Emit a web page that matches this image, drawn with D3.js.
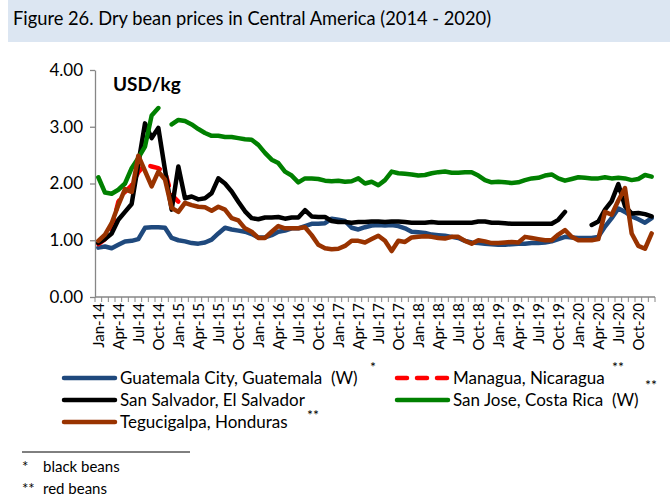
<!DOCTYPE html>
<html><head><meta charset="utf-8">
<script src="https://cdn.jsdelivr.net/npm/d3@7/dist/d3.min.js"></script>
<style>body{margin:0;background:#fff}svg{display:block}text{font-family:Lato,"Open Sans",sans-serif;fill:#000;white-space:pre}</style>
</head><body><svg id="c" width="670" height="500"></svg>
<script>
// ---------- DATA ----------
const years = ["14","15","16","17","18","19","20"];
const monthNames = ["Jan","Feb","Mar","Apr","May","Jun","Jul","Aug","Sep","Oct","Nov","Dec"];
const categories = years.flatMap(y => monthNames.map(m => m + "-" + y));
const tickLabels = ["Jan-14","Apr-14","Jul-14","Oct-14","Jan-15","Apr-15","Jul-15","Oct-15",
  "Jan-16","Apr-16","Jul-16","Oct-16","Jan-17","Apr-17","Jul-17","Oct-17","Jan-18","Apr-18",
  "Jul-18","Oct-18","Jan-19","Apr-19","Jul-19","Oct-19","Jan-20","Apr-20","Jul-20","Oct-20"];
const yTicks = [0, 1, 2, 3, 4];

const guatemala = [0.87,0.89,0.86,0.92,0.98,0.99,1.02,1.22,1.23,1.23,1.22,1.04,
  1.00,0.98,0.95,0.94,0.96,1.01,1.12,1.22,1.19,1.17,1.15,1.11,
  1.05,1.05,1.09,1.15,1.17,1.21,1.21,1.25,1.29,1.29,1.30,1.38,
  1.36,1.34,1.22,1.19,1.23,1.26,1.27,1.26,1.27,1.25,1.21,1.15,
  1.14,1.13,1.10,1.09,1.08,1.06,1.04,0.99,0.96,0.95,0.94,0.93,
  0.92,0.92,0.93,0.94,0.94,0.95,0.95,0.96,0.98,1.02,1.06,1.05,
  1.04,1.04,1.04,1.06,1.24,1.39,1.56,1.50,1.42,1.37,1.31,1.39];
const managua = [0.93,1.02,1.20,1.68,1.85,1.97,2.20,2.33,2.30,2.27,2.20,1.80,
  1.68,null,null,null,null,null,null,null,null,null,null,null,
  null,null,null,null,null,null,null,null,null,null,null,null,
  null,null,null,null,null,null,null,null,null,null,null,null,
  null,null,null,null,null,null,null,null,null,null,null,null,
  null,null,null,null,null,null,null,null,null,null,null,null,
  null,null,null,null,null,null,null,null,null,null,null,null];
const sanSalvador = [0.95,1.02,1.12,1.36,1.50,1.64,2.35,3.06,2.80,2.98,2.24,1.54,
  2.30,1.74,1.77,1.72,1.74,1.83,2.09,2.00,1.86,1.68,1.51,1.39,
  1.37,1.40,1.40,1.41,1.38,1.40,1.40,1.53,1.42,1.41,1.41,1.34,
  1.32,1.32,1.31,1.32,1.32,1.33,1.33,1.32,1.33,1.33,1.32,1.31,
  1.31,1.31,1.32,1.31,1.31,1.31,1.31,1.31,1.31,1.33,1.33,1.31,
  1.31,1.30,1.29,1.29,1.29,1.29,1.29,1.29,1.29,1.36,1.50,null,
  null,null,1.27,1.33,1.54,1.69,1.99,1.60,1.47,1.48,1.46,1.42];
const sanJose = [2.11,1.84,1.82,1.89,2.00,2.27,2.45,2.65,3.20,3.33,null,3.04,
  3.12,3.10,3.04,2.96,2.89,2.84,2.84,2.82,2.82,2.80,2.78,2.77,
  2.68,2.54,2.42,2.36,2.21,2.14,2.02,2.09,2.09,2.08,2.05,2.04,
  2.05,2.03,2.04,2.09,2.00,2.03,1.97,2.06,2.21,2.18,2.17,2.16,
  2.14,2.15,2.18,2.20,2.21,2.19,2.19,2.20,2.20,2.14,2.06,2.02,
  2.03,2.02,2.01,2.02,2.06,2.09,2.10,2.14,2.16,2.09,2.05,2.08,
  2.11,2.10,2.09,2.09,2.11,2.09,2.10,2.09,2.06,2.08,2.15,2.12];
const tegucigalpa = [0.99,1.10,1.30,1.62,1.90,1.85,2.49,2.22,1.95,2.21,2.07,1.57,
  1.50,1.66,1.62,1.59,1.58,1.52,1.59,1.54,1.39,1.35,1.21,1.15,
  1.04,1.04,1.15,1.25,1.21,1.21,1.21,1.23,1.09,0.92,0.86,0.84,
  0.85,0.90,0.99,0.99,0.96,1.02,1.08,0.99,0.81,0.99,0.97,1.05,
  1.06,1.07,1.06,1.04,1.03,1.06,1.06,0.99,0.94,1.00,0.98,0.95,
  0.95,0.96,0.97,0.96,1.06,1.04,1.02,1.00,1.00,1.10,1.18,1.06,
  1.00,1.00,1.00,1.02,1.50,1.45,1.70,1.92,1.12,0.90,0.85,1.12];

const seriesNames = ["Guatemala City, Guatemala  (W)","Managua, Nicaragua","San Salvador, El Salvador","San Jose, Costa Rica  (W)","Tegucigalpa, Honduras"];
const seriesNotes = ["*","**","","**","**"];
const seriesColors = ["#1F497D","#FF0000","#000000","#008000","#993300"];
const seriesValues = [guatemala, managua, sanSalvador, sanJose, tegucigalpa];

// ---------- CHART ----------
const svg = d3.select("#c");
const L = 95, R = 655, T = 70, B = 297;

svg.append("rect").attr("x",8).attr("y",0).attr("width",662).attr("height",42).attr("fill","#DCE6F2");
svg.append("text").attr("x",13).attr("y",25).style("font-size","18.3px")
  .text("Figure 26. Dry bean prices in Central America (2014 - 2020)");

const x = d3.scaleBand().domain(categories).range([L, R]).padding(0);
const y = d3.scaleLinear().domain([0, 4]).range([B, T]);
const cx = c => x(c) + x.bandwidth() / 2;

// y axis
const ya = svg.append("g").attr("transform", `translate(${L},0)`)
  .call(d3.axisLeft(y).tickValues(yTicks).tickFormat(d3.format(".2f")).tickSize(5).tickSizeOuter(0).tickPadding(7));
ya.select(".domain").attr("stroke","#868686").attr("stroke-width",1.3);
ya.selectAll(".tick line").attr("stroke","#868686").attr("stroke-width",1.3);
ya.selectAll(".tick text").style("font-size","17px").style("font-family","Lato").attr("fill","#000");

// x axis line + ticks at category boundaries
svg.append("line").attr("x1",L).attr("x2",R).attr("y1",B).attr("y2",B).attr("stroke","#868686").attr("stroke-width",1.3);
svg.append("g").selectAll("line").data(categories.concat(["__end"])).join("line")
  .attr("x1", d => d === "__end" ? R : x(d)).attr("x2", d => d === "__end" ? R : x(d))
  .attr("y1", B).attr("y2", B + 5).attr("stroke","#868686").attr("stroke-width",1);
svg.append("g").selectAll("text").data(tickLabels).join("text")
  .attr("transform", d => `translate(${cx(d) + 5.5},${B + 6}) rotate(-90)`)
  .attr("text-anchor","end").style("font-size","15px").text(d => d);

svg.append("text").attr("x",113).attr("y",91).style("font-size","19px").style("font-weight","bold").text("USD/kg");

// lines
const line = d3.line().defined(d => d.v != null).x(d => cx(d.c)).y(d => y(d.v));
seriesValues.forEach((vals, i) => {
  const data = categories.map((c, j) => ({c, v: vals[j]}));
  const p = svg.append("path").datum(data).attr("d", line)
    .attr("fill","none").attr("stroke", seriesColors[i]).attr("stroke-width",4.5)
    .attr("stroke-linejoin","round").attr("stroke-linecap","round");
  if (i === 1) p.attr("stroke-dasharray","10,10");
});

// legend
const legPos = [[64,378],[397,378],[64,400],[397,400],[64,422]];
seriesNames.forEach((name, i) => {
  const [lx, ly] = legPos[i];
  const ln = svg.append("line").attr("x1",lx).attr("x2",lx+51).attr("y1",ly).attr("y2",ly)
    .attr("stroke",seriesColors[i]).attr("stroke-width",4.5).attr("stroke-linecap","round");
  if (i === 1) ln.attr("stroke-dasharray","10,10");
  svg.append("text").attr("x",lx+56).attr("y",ly).attr("dy","0.35em").style("font-size","17px").text(name);
});
const notePos = [[370,372],[612,372],[645,390],[307,420]];
seriesNotes.filter(n => n).forEach((t, k) => {
  const [nx, ny] = notePos[k];
  svg.append("text").attr("x",nx).attr("y",ny).style("font-size","14px").text(t);
});

// footnotes
svg.append("line").attr("x1",22).attr("x2",190).attr("y1",452).attr("y2",452).attr("stroke","#000").attr("stroke-width",1);
svg.append("text").attr("x",22).attr("y",472).style("font-size","15px").text("*");
svg.append("text").attr("x",43).attr("y",472).style("font-size","15px").text("black beans");
svg.append("text").attr("x",22).attr("y",494).style("font-size","15px").text("**");
svg.append("text").attr("x",43).attr("y",494).style("font-size","15px").text("red beans");
</script></body></html>
